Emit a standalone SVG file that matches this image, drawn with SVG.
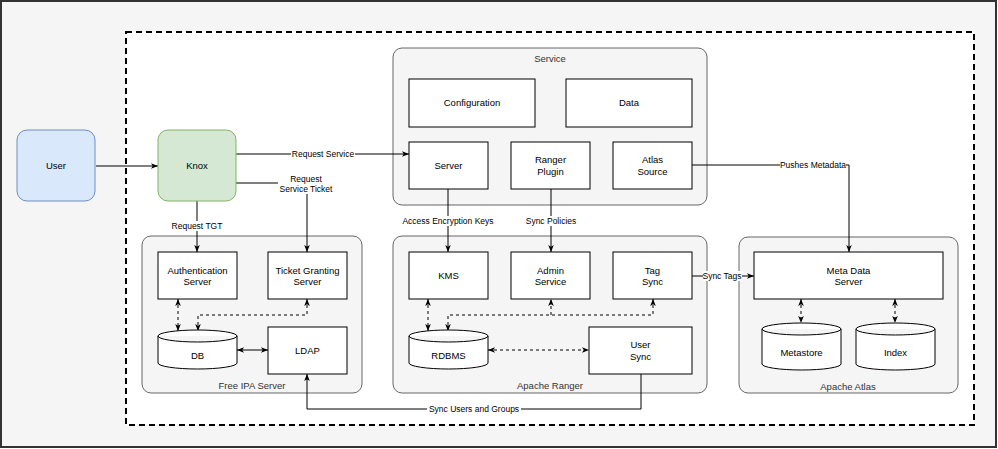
<svg xmlns="http://www.w3.org/2000/svg" width="998" height="449" viewBox="0 0 998 449">
<style>
text{font-family:"Liberation Sans",Arial,sans-serif;text-anchor:middle;fill:#000}
.n{font-size:9.5px}
.l{font-size:8.5px}
.g{font-size:9.5px;fill:#333}
.box{fill:#fff;stroke:#000;stroke-width:1}
.grp{fill:#f5f5f5;stroke:#666;stroke-width:1}
.c{fill:none;stroke:#000;stroke-width:1}
.d{stroke-dasharray:3 3}
.bg{fill:#fff}
</style>
<defs>
<marker id="a" viewBox="0 0 10 10" refX="10" refY="5" markerWidth="7" markerHeight="7" markerUnits="userSpaceOnUse" orient="auto-start-reverse">
<path d="M0,1 L10,5 L0,9 L2.5,5 Z" fill="#000"/>
</marker>
</defs>
<rect x="1" y="1" width="995" height="446" fill="#f5f5f5" stroke="#333" stroke-width="2"/>
<rect x="126" y="32" width="848" height="393" fill="#fff" stroke="#000" stroke-width="2" stroke-dasharray="6 4"/>

<g id="service-group">
<rect class="grp" x="393" y="48" width="314" height="157" rx="9"/>
<text class="g" x="550" y="62">Service</text>
</g>
<g id="ranger-group">
<rect class="grp" x="393" y="236" width="314" height="157" rx="9"/>
<text class="g" x="550" y="389">Apache Ranger</text>
</g>
<g id="ipa-group">
<rect class="grp" x="142" y="236" width="220" height="157" rx="9"/>
<text class="g" x="252" y="389">Free IPA Server</text>
</g>
<g id="atlas-group">
<rect class="grp" x="739" y="237" width="219" height="156" rx="9"/>
<text class="g" x="848" y="390">Apache Atlas</text>
</g>

<g id="connectors">
<path class="c" d="M96,166 H158" marker-end="url(#a)"/>
<path class="c" d="M236,154 H409" marker-end="url(#a)"/>
<path class="c" d="M236,183 H307 V252" marker-end="url(#a)"/>
<path class="c" d="M197,201 V252" marker-end="url(#a)"/>
<path class="c" d="M448,189 V252" marker-end="url(#a)"/>
<path class="c" d="M551,189 V252" marker-end="url(#a)"/>
<path class="c" d="M692,165 H849 V252" marker-end="url(#a)"/>
<path class="c" d="M692,276 H754" marker-end="url(#a)"/>
<path class="c" d="M641,374 V409 H307 V374" marker-end="url(#a)"/>
<path class="c" d="M237,350 H268" marker-start="url(#a)" marker-end="url(#a)"/>
<path class="c d" d="M178,299 V331" marker-start="url(#a)" marker-end="url(#a)"/>
<path class="c d" d="M198,331 V315 H307 V299" marker-start="url(#a)" marker-end="url(#a)"/>
<path class="c d" d="M428,299 V331" marker-start="url(#a)" marker-end="url(#a)"/>
<path class="c d" d="M448,331 V315 H653 V299" marker-start="url(#a)" marker-end="url(#a)"/>
<path class="c d" d="M551,315 V299" marker-end="url(#a)"/>
<path class="c d" d="M488,350 H589" marker-start="url(#a)" marker-end="url(#a)"/>
<path class="c d" d="M801,299 V323" marker-start="url(#a)" marker-end="url(#a)"/>
<path class="c d" d="M895,299 V323" marker-start="url(#a)" marker-end="url(#a)"/>
<rect class="bg" x="291" y="149" width="64" height="10"/>
<text class="l" x="323" y="157">Request Service</text>
<rect class="bg" x="278" y="173" width="57" height="21"/>
<text class="l" x="306" y="182">Request</text>
<text class="l" x="306" y="192">Service Ticket</text>
<rect class="bg" x="171" y="221" width="52" height="10"/>
<text class="l" x="197" y="229">Request TGT</text>
<rect class="bg" x="401" y="216" width="94" height="10"/>
<text class="l" x="448" y="224">Access Encryption Keys</text>
<rect class="bg" x="524" y="216" width="54" height="10"/>
<text class="l" x="551" y="224">Sync Policies</text>
<rect class="bg" x="780" y="160" width="66" height="10"/>
<text class="l" x="813" y="168">Pushes Metadata</text>
<rect class="bg" x="703" y="271" width="39" height="10"/>
<text class="l" x="722" y="279">Sync Tags</text>
<rect class="bg" x="427" y="404" width="94" height="10"/>
<text class="l" x="474" y="412">Sync Users and Groups</text>
</g>

<g id="user">
<rect x="17" y="130" width="78" height="71" rx="10" fill="#dae8fc" stroke="#6c8ebf"/>
<text class="n" x="56" y="169">User</text>
</g>
<g id="knox">
<rect x="158" y="130" width="78" height="71" rx="10" fill="#d5e8d4" stroke="#82b366"/>
<text class="n" x="197" y="169">Knox</text>
</g>

<g id="configuration">
<rect class="box" x="409" y="79" width="126" height="48"/>
<text class="n" x="472" y="106">Configuration</text>
</g>
<g id="data">
<rect class="box" x="566" y="79" width="126" height="48"/>
<text class="n" x="629" y="106">Data</text>
</g>
<g id="server">
<rect class="box" x="409" y="142" width="79" height="47"/>
<text class="n" x="448.5" y="169">Server</text>
</g>
<g id="ranger-plugin">
<rect class="box" x="511" y="142" width="79" height="47"/>
<text class="n" x="550.5" y="163">Ranger</text>
<text class="n" x="550.5" y="175">Plugin</text>
</g>
<g id="atlas-source">
<rect class="box" x="613" y="142" width="79" height="47"/>
<text class="n" x="652.5" y="163">Atlas</text>
<text class="n" x="652.5" y="175">Source</text>
</g>

<g id="auth-server">
<rect class="box" x="158" y="252" width="79" height="47"/>
<text class="n" x="197.5" y="274">Authentication</text>
<text class="n" x="197.5" y="285">Server</text>
</g>
<g id="tgs">
<rect class="box" x="268" y="252" width="79" height="47"/>
<text class="n" x="307.5" y="274">Ticket Granting</text>
<text class="n" x="307.5" y="285">Server</text>
</g>
<g id="db">
<path class="box" d="M158,336 A39.5,6 0 0 1 237,336 V363 A39.5,6 0 0 1 158,363 Z M158,336 A39.5,6 0 0 0 237,336"/>
<text class="n" x="197.5" y="359">DB</text>
</g>
<g id="ldap">
<rect class="box" x="268" y="327" width="79" height="47"/>
<text class="n" x="307.5" y="354">LDAP</text>
</g>

<g id="kms">
<rect class="box" x="409" y="252" width="79" height="47"/>
<text class="n" x="448.5" y="279">KMS</text>
</g>
<g id="admin-service">
<rect class="box" x="511" y="252" width="79" height="47"/>
<text class="n" x="550.5" y="274">Admin</text>
<text class="n" x="550.5" y="285">Service</text>
</g>
<g id="tag-sync">
<rect class="box" x="613" y="252" width="79" height="47"/>
<text class="n" x="652.5" y="274">Tag</text>
<text class="n" x="652.5" y="285">Sync</text>
</g>
<g id="rdbms">
<path class="box" d="M409,336 A39.5,6 0 0 1 488,336 V363 A39.5,6 0 0 1 409,363 Z M409,336 A39.5,6 0 0 0 488,336"/>
<text class="n" x="448.5" y="359">RDBMS</text>
</g>
<g id="user-sync">
<rect class="box" x="589" y="327" width="103" height="47"/>
<text class="n" x="640.5" y="348">User</text>
<text class="n" x="640.5" y="360">Sync</text>
</g>

<g id="meta-data-server">
<rect class="box" x="754" y="252" width="189" height="47"/>
<text class="n" x="848.5" y="274">Meta Data</text>
<text class="n" x="848.5" y="285">Server</text>
</g>
<g id="metastore">
<path class="box" d="M762,329 A39.5,6 0 0 1 841,329 V364 A39.5,6 0 0 1 762,364 Z M762,329 A39.5,6 0 0 0 841,329"/>
<text class="n" x="801.5" y="356">Metastore</text>
</g>
<g id="index">
<path class="box" d="M856,329 A39.5,6 0 0 1 935,329 V364 A39.5,6 0 0 1 856,364 Z M856,329 A39.5,6 0 0 0 935,329"/>
<text class="n" x="895.5" y="356">Index</text>
</g>
</svg>
